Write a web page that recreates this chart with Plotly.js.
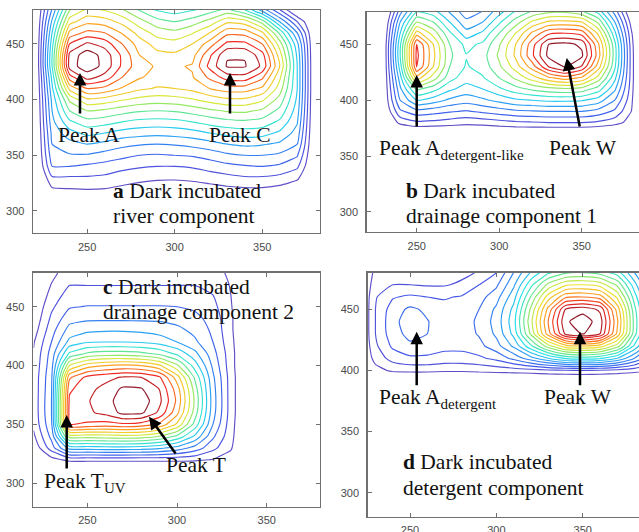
<!DOCTYPE html>
<html>
<head>
<meta charset="utf-8">
<script src="https://cdn.plot.ly/plotly-3.0.1.min.js"></script>
<style>html,body{margin:0;padding:0;background:#fff;overflow:hidden}#chart{width:639px;height:532px}</style>
</head>
<body>
<div id="chart"></div>
<script>
// Excitation (x) and emission (y) grid, nm
const excitation = [220,230,240,250,260,270,280,290,300,310,320,330,340,350,360,370,380,390];
const emission = [280,290,300,310,320,330,340,350,360,370,380,390,400,410,420,430,440,450,460,470,480,490];
const xTicks = [250,300,350];
const yTicks = [300,350,400,450];

// a Dark incubated river component (relative intensity, contour levels 1..16)
const zRiver = [
[-1,-1,-1,-1,-1,-1,-1,-1,-1,-1,-1,-1,-1,-1,-1,-1,-1,-1],
[-1,-1,-1,-1,-1,-1,-1,-1,-1,-1,-1,-1,-1,-1,-1,-1,-1,-1],
[-1,-1,-1,-1,-1,-1,-1,-1,-1,-1,-1,-1,-1,-1,-1,-1,-1,-1],
[-1,-1,-0.8,-0.6,-0.6,-0.6,-0.6,-0.8,-0.8,-0.8,-0.8,-0.6,-0.6,-0.6,-0.6,-0.8,-1,-1],
[-1,0.9,1.0,1.1,1.0,0.8,0.6,0.4,0.3,0.4,0.6,0.8,0.9,0.9,0.7,0.3,-1,-1],
[-1,1.9,1.9,1.9,1.8,1.5,1.3,1.2,1.2,1.3,1.5,1.7,1.9,1.9,1.7,1.2,-0.5,-1],
[-0.8,3.0,3.0,2.8,2.6,2.3,2.1,2.0,2.0,2.1,2.4,2.7,2.9,3.0,2.8,2.2,-0.5,-1],
[-0.8,3.6,3.9,3.9,3.6,3.3,3.0,2.9,3.0,3.1,3.4,3.8,4.0,4.0,3.8,3.1,-0.5,-1],
[-0.8,4.0,4.6,5.0,4.7,4.3,4.1,4.0,4.1,4.3,4.6,5.0,5.2,5.1,4.8,4.0,-0.5,-1],
[-0.8,4.3,5.6,6.3,6.0,5.6,5.4,5.3,5.4,5.6,6.0,6.3,6.5,6.4,5.8,4.6,-0.5,-1],
[-0.8,4.7,6.8,7.6,7.4,7.0,6.7,6.6,6.7,7.0,7.4,7.7,7.8,7.6,6.8,5.1,-0.5,-1],
[-0.8,5.0,8.0,9.0,8.8,8.4,8.1,8.0,8.1,8.4,8.8,9.1,9.2,8.8,7.7,5.5,-0.5,-1],
[-0.8,5.3,9.2,10.8,10.6,10.1,9.7,9.5,9.6,9.9,10.4,10.8,10.8,10.2,8.6,5.8,-0.5,-1],
[-0.8,5.8,11.3,13.0,12.7,11.9,11.2,10.9,11.0,11.3,12.0,12.5,12.5,11.8,9.5,6.0,-0.5,-1],
[-0.8,6.3,13.5,15.4,14.6,13.0,12.1,11.6,11.6,11.9,13.2,14.5,14.6,13.2,10.2,6.0,-0.5,-1],
[-0.8,7.0,15.5,16.6,15.7,13.8,12.3,11.9,11.85,12.1,14.3,16.1,16.1,14.8,11.0,6.0,-0.5,-1],
[-0.8,7.0,15.3,16.6,15.6,13.8,12.0,11.3,11.2,11.6,13.8,15.9,15.9,14.4,10.5,5.8,-0.5,-1],
[-0.8,6.6,14.0,15.2,14.6,13.0,11.5,10.6,10.4,11.0,12.5,14.3,14.3,13.0,9.5,5.3,-0.5,-1],
[-0.8,6.0,12.3,13.3,13.0,11.9,10.6,9.6,9.3,9.9,11.0,12.7,12.6,11.2,7.8,4.0,-0.5,-1],
[-0.8,5.2,10.6,11.7,11.5,10.7,9.4,8.4,8.0,8.5,9.4,10.8,10.5,8.6,5.0,2.0,-0.5,-1],
[-0.8,4.2,9.0,10.3,10.0,9.2,8.0,7.0,6.6,7.0,7.6,8.4,7.2,4.8,2.2,-0.3,-1,-1],
[-0.8,3.4,7.6,9.0,8.6,7.8,6.6,5.8,5.5,5.8,6.0,6.5,5.0,2.0,0,-1,-1,-1]
];

// b Dark incubated drainage component 1 (levels 1..16)
const zDrainage1 = [
[-1,-1,-1,-1,-1,-1,-1,-1,-1,-1,-1,-1,-1,-1,-1,-1,-1,-1],
[-1,-1,-1,-1,-1,-1,-1,-1,-1,-1,-1,-1,-1,-1,-1,-1,-1,-1],
[-1,-1,-1,-1,-1,-1,-1,-1,-1,-1,-1,-1,-1,-1,-1,-1,-1,-1],
[-1,-1,-1,-1,-1,-1,-1,-1,-1,-1,-1,-1,-1,-1,-1,-1,-1,-1],
[-1,-1,-1,-1,-1,-1,-1,-1,-1,-1,-1,-1,-1,-1,-1,-1,-1,-1],
[-1,-1,-1,-1,-1,-1,-1,-1,-1,-1,-1,-1,-1,-1,-1,-1,-1,-1],
[-1,-1,-1,-1,-1,-1,-1,-1,-1,-1,-1,-1,-1,-1,-1,-1,-1,-1],
[-1,-1,-1,-1,-1,-1,-1,-1,-1,-1,-1,-1,-1,-1,-1,-1,-1,-1],
[-1,-1,-1,-1,-1,-1,-1,-1,-1,-1,-1,-1,-1,-1,-1,-1,-1,-1],
[-6,-1.5,-0.8,-0.5,-0.5,-0.4,-0.3,-0.3,-0.3,-0.3,-0.3,-0.4,-0.4,-0.4,-0.5,-0.6,-1,-3],
[-6,-0.5,1.3,1.8,1.7,1.5,1.3,1.4,1.6,1.8,1.9,2.0,2.0,2.0,1.8,1.4,0.6,-3],
[-6,-0.2,2.8,3.6,3.4,3.1,2.9,3.2,3.5,3.8,3.9,4.0,4.0,4.0,3.6,2.8,1.0,-3],
[-6,0,4.0,6.0,5.5,4.8,4.4,4.8,5.3,5.8,6.0,6.2,6.2,6.1,5.5,4.0,1.3,-3],
[-6,0,4.8,8.2,7.4,6.2,5.6,6.0,6.8,7.6,8.2,8.6,8.8,8.6,7.5,5.2,1.5,-3],
[-6,0,5.6,11.5,9.5,7.4,6.4,6.9,8.0,9.2,10.5,11.8,12.5,11.8,9.6,6.3,1.6,-3],
[-6,0,6.5,14.1,11.0,8.0,6.9,7.4,8.8,10.5,12.5,15.0,16.1,14.9,11.5,7.2,1.6,-3],
[-6,0,7.0,14.3,11.3,8.2,7.05,7.6,9.2,11.2,13.8,16.3,16.6,16.2,12.5,7.5,1.6,-3],
[-6,0,6.8,14.1,11.0,8.0,6.7,7.2,8.9,11.0,13.6,16.0,16.3,15.8,12.2,7.3,1.5,-3],
[-6,-0.2,6.0,11.5,9.6,7.2,5.4,6.2,8.0,10.0,12.2,13.8,14.0,13.6,10.8,6.3,1.2,-3],
[-6,-0.5,5.0,9.0,8.0,6.0,4.3,5.0,6.8,8.5,10.2,11.2,11.3,11.0,8.8,5.0,0.6,-3],
[-6,-1,3.5,6.8,6.3,4.8,3.3,4.0,5.5,7.0,8.0,8.6,8.6,8.0,6.5,3.5,-0.3,-3],
[-6,-1.5,2.5,5.2,4.8,3.7,2.5,3.0,4.3,5.6,6.0,6.3,6.2,5.6,4.5,2.0,-1,-3]
];

// c Dark incubated drainage component 2 (levels 1..16)
const zDrainage2 = [
[-1,-1,-1,-1,-1,-1,-1,-1,-1,-1,-1,-1,-1,-1,-1,-1,-1,-1],
[-1,-1,-1,-1,-1,-1,-1,-1,-1,-1,-1,-1,-1,-1,-1,-1,-1,-1],
[-1,-1,-1,-1,-1,-1,-1,-1,-1,-1,-1,-1,-1,-1,-1,-1,-1,-1],
[-1,-1,-1,-1,-1,-1,-1,-1,-1,-1,-1,-1,-1,-1,-1,-1,-1,-1],
[-0.5,0.6,1.3,1.3,1.3,1.3,1.3,1.3,1.3,1.2,0.95,0.6,-0.8,-1,-1,-1,-1,-1],
[0.2,2.5,5.4,5.5,5.6,5.6,5.5,5.2,4.6,3.6,2.3,1.1,-0.5,-1,-1,-1,-1,-1],
[0.8,3.3,9.5,9.5,9.6,9.7,9.6,9.0,7.8,5.8,3.2,1.3,-0.5,-1,-1,-1,-1,-1],
[1.2,3.8,14.0,13.8,13.6,13.8,13.6,12.8,10.8,7.6,4.0,1.4,-0.5,-1,-1,-1,-1,-1],
[1.3,4.0,14.3,14.8,15.3,16.3,16.2,14.8,12.3,8.5,4.4,1.5,-0.5,-1,-1,-1,-1,-1],
[1.3,4.0,14.2,14.9,15.6,16.5,16.6,15.3,12.8,8.8,4.5,1.5,-0.5,-1,-1,-1,-1,-1],
[1.3,3.9,13.8,14.7,15.3,16.2,16.1,15.0,12.5,8.5,4.4,1.5,-0.5,-1,-1,-1,-1,-1],
[1.3,3.8,12.8,14.3,14.7,15.1,15.0,14.2,11.5,7.8,4.2,1.5,-0.5,-1,-1,-1,-1,-1],
[1.2,3.6,10.0,11.5,12.0,12.2,12.0,11.2,9.2,6.5,3.8,1.4,-0.5,-1,-1,-1,-1,-1],
[1.1,3.4,7.2,8.2,8.5,8.5,8.3,7.8,6.8,5.3,3.4,1.4,-0.5,-1,-1,-1,-1,-1],
[0.9,3.0,5.3,5.9,6.0,6.0,5.9,5.6,5.0,4.2,3.0,1.3,-0.5,-1,-1,-1,-1,-1],
[0.5,2.6,4.4,4.8,4.9,4.9,4.8,4.6,4.3,3.7,2.8,1.2,-0.5,-1,-1,-1,-1,-1],
[0.2,2.2,3.6,3.8,3.8,3.8,3.8,3.8,3.6,3.3,2.6,1.2,-0.6,-1,-1,-1,-1,-1],
[0,1.8,2.9,3.05,3.05,3.05,3.05,3.05,3.0,2.8,2.3,1.1,-0.6,-1,-1,-1,-1,-1],
[-0.3,1.4,2.4,2.4,2.4,2.4,2.4,2.4,2.4,2.4,2.0,1.0,-0.6,-1,-1,-1,-1,-1],
[-0.5,1.0,1.9,1.9,1.9,1.9,1.9,1.9,1.9,1.9,1.7,0.9,-0.7,-1,-1,-1,-1,-1],
[-1,0.6,1.6,1.7,1.7,1.7,1.7,1.7,1.7,1.7,1.5,0.7,-0.8,-1,-1,-1,-1,-1],
[-1.5,0.3,1.4,1.5,1.5,1.5,1.5,1.5,1.5,1.5,1.3,0.4,-1,-1,-1,-1,-1,-1]
];

// d Dark incubated detergent component (levels 1..20)
const zDetergent = [
[-1,-1,-1,-1,-1,-1,-1,-1,-1,-1,-1,-1,-1,-1,-1,-1,-1,-1],
[-1,-1,-1,-1,-1,-1,-1,-1,-1,-1,-1,-1,-1,-1,-1,-1,-1,-1],
[-1,-1,-1,-1,-1,-1,-1,-1,-1,-1,-1,-1,-1,-1,-1,-1,-1,-1],
[-1,-1,-1,-1,-1,-1,-1,-1,-1,-1,-1,-1,-1,-1,-1,-1,-1,-1],
[-1,-1,-1,-1,-1,-1,-1,-1,-1,-1,-1,-1,-1,-1,-1,-1,-1,-1],
[-1,-1,-1,-1,-1,-1,-1,-1,-1,-1,-1,-1,-1,-1,-1,-1,-1,-1],
[-1,-1,-1,-1,-1,-1,-1,-1,-1,-1,-1,-1,-1,-1,-1,-1,-1,-1],
[-1,-1,-1,-1,-1,-1,-1,-1,-1,-1,-1,-1,-1,-1,-1,-1,-1,-1],
[-1,-1,-1,-1,-1,-1,-1,-1,-1,-1,-1,-1,-1,-1,-1,-1,-1,-1],
[-1,-1,-1,-1,-1,-1,-1,-1,-1,-1,-1,-1,-1,-1,-1,-1,-1,-1],
[-1,-1,-1,-1,-1,-1,-1,-1,-1,-1,-1,-1,-1,-1,-1,-1,-1,-1],
[-1,-1,-1,-1,-1,-1,-1,-1,-1,-1,-1,-1,-1,-1,-1,-1,-1,-1],
[-0.8,0.6,1.2,1.3,1.3,1.2,1.2,1.3,1.4,1.5,1.6,1.8,1.9,2.0,1.9,1.7,1.4,1.0],
[-0.6,1.4,2.4,2.8,2.8,2.6,2.6,2.8,3.3,4.3,5.6,7.0,8.2,8.5,8.2,7.0,5.0,3.0],
[-0.6,1.8,3.2,3.8,3.6,3.3,3.3,3.7,4.6,6.2,8.8,11.6,13.6,14.0,13.5,11.5,7.8,4.5],
[-0.6,2.0,3.6,4.3,4.0,3.5,3.5,4.1,5.2,7.3,11.2,15.5,19.2,20.1,19.0,14.8,9.4,5.2],
[-0.6,2.0,3.7,4.5,4.05,3.5,3.5,4.2,5.4,7.6,11.7,16.0,19.8,20.6,19.5,15.2,9.6,5.3],
[-0.6,2.0,3.5,4.2,3.8,3.35,3.4,4.0,5.2,7.3,11.2,15.3,19.0,19.6,18.8,14.6,9.3,5.1],
[-0.6,1.9,2.9,3.2,3.0,2.9,3.1,3.6,4.6,6.6,10.1,13.5,15.8,16.0,15.5,12.8,8.5,4.7],
[-0.6,1.6,2.0,2.0,1.9,1.9,2.2,3.0,3.8,5.8,8.7,11.3,12.8,13.0,12.6,10.8,7.4,4.1],
[-0.6,1.3,1.5,1.5,1.4,1.5,1.7,2.1,3.0,5.0,7.1,8.8,9.8,10.0,9.6,8.5,6.0,3.4],
[-0.6,1.1,1.2,1.2,1.2,1.3,1.5,1.8,2.5,4.2,5.6,6.6,7.3,7.5,7.2,6.5,4.8,2.8]
];

const W = 639, H = 532;
const px = v => v / W;
const py = v => 1 - v / H;

const lineScale = [
  [0, 'rgb(95,80,200)'],
  [0.1, 'rgb(70,85,232)'],
  [0.25, 'rgb(45,150,245)'],
  [0.37, 'rgb(35,225,235)'],
  [0.5, 'rgb(115,232,120)'],
  [0.62, 'rgb(235,232,45)'],
  [0.75, 'rgb(255,150,30)'],
  [0.87, 'rgb(240,40,35)'],
  [1, 'rgb(145,25,40)']
];

function contourTrace(z, nLevels, xa, ya) {
  return {
    type: 'contour', x: excitation, y: emission, z: z,
    xaxis: xa, yaxis: ya,
    autocontour: false,
    contours: {coloring: 'lines', start: 0.999, end: nLevels - 0.001, size: 1, showlabels: false},
    colorscale: lineScale, showscale: false,
    line: {width: 1.15, smoothing: 0.5},
    hoverinfo: 'skip'
  };
}

const data = [
  contourTrace(zRiver, 16, 'x', 'y'),
  contourTrace(zDrainage1, 16, 'x2', 'y2'),
  contourTrace(zDrainage2, 16, 'x3', 'y3'),
  contourTrace(zDetergent, 20, 'x4', 'y4')
];

const tickFont = {family: 'Liberation Sans, Arial, sans-serif', size: 11, color: '#4a4a4a'};
function xAxis(domain, range, anchor) {
  return {domain: domain, range: range, anchor: anchor, tickvals: xTicks, ticks: 'inside', ticklen: 4,
    tickcolor: '#707070', showline: true, linecolor: '#707070', linewidth: 1.4, mirror: 'ticks',
    showgrid: false, zeroline: false, tickfont: tickFont, ticklabelstandoff: 3, fixedrange: true};
}
function yAxis(domain, range, anchor, mirror) {
  return {domain: domain, range: range, anchor: anchor, tickvals: yTicks, ticks: 'inside', ticklen: 4,
    tickcolor: '#707070', showline: true, linecolor: '#707070', linewidth: 1.4, mirror: mirror,
    showgrid: false, zeroline: false, tickfont: tickFont, ticklabelstandoff: 5, fixedrange: true};
}

const serif = {family: 'Liberation Serif, Times New Roman, serif', size: 21.5, color: '#111'};
function label(text, left, baseline) {
  return {text: text, xref: 'paper', yref: 'paper', x: px(left - 1), y: py(baseline - 20.2),
    xanchor: 'left', yanchor: 'top', showarrow: false, font: serif};
}
function arrow(tipX, tipY, tailX, tailY) {
  return {text: '', xref: 'paper', yref: 'paper', x: px(tipX), y: py(tipY),
    ax: tailX - tipX, ay: tailY - tipY, showarrow: true, arrowhead: 2, arrowsize: 1.0,
    arrowwidth: 2.5, arrowcolor: '#000', standoff: 0};
}

const annotations = [
  // a
  label('Peak A', 56.7, 141.7),
  label('Peak C', 208.3, 141.7),
  label('<b>a</b> Dark incubated', 111.7, 196.7),
  label('river component', 111.7, 221.7),
  arrow(80, 73, 80, 115),
  arrow(230, 73, 230, 115),
  // b
  label('Peak A<sub>detergent-like</sub>', 378.3, 154),
  label('Peak W', 548.3, 154),
  label('<b>b</b> Dark incubated', 405, 196.7),
  label('drainage component 1', 405, 221.7),
  arrow(416.7, 75, 416.7, 128),
  arrow(566.7, 58, 580, 128),
  // c
  label('<b>c</b> Dark incubated', 101.7, 293.3),
  label('drainage component 2', 101.7, 318.3),
  label('Peak T<sub>UV</sub>', 43.3, 486.7),
  label('Peak T', 165, 470.7),
  arrow(66.7, 415, 66.7, 470),
  arrow(149, 416.7, 176.7, 455),
  // d
  label('Peak A<sub>detergent</sub>', 378.3, 403),
  label('Peak W', 543.3, 403),
  label('<b>d</b> Dark incubated', 401.7, 468),
  label('detergent component', 401.7, 494),
  arrow(416.7, 331.7, 416.7, 386.7),
  arrow(580, 331.7, 580, 386.7)
];

const layout = {
  width: W, height: H,
  margin: {l: 0, r: 0, t: 0, b: 0},
  paper_bgcolor: '#fff', plot_bgcolor: '#fff',
  showlegend: false,
  font: {family: 'Liberation Sans, Arial, sans-serif'},
  xaxis: xAxis([px(33), px(320)], [219.1, 383], 'y'),
  yaxis: yAxis([py(233), py(10)], [280.2, 480.5], 'x', 'ticks'),
  xaxis2: xAxis([px(366.7), 1], [219.7, 384.7], 'y2'),
  yaxis2: yAxis([py(232), py(12)], [282, 479], 'x2', false),
  xaxis3: xAxis([px(33), px(320)], [219.7, 379.7], 'y3'),
  yaxis3: yAxis([py(506.7), py(272.7)], [280.1, 478.9], 'x3', 'ticks'),
  xaxis4: xAxis([px(367.7), 1], [225.5, 382.6], 'y4'),
  yaxis4: yAxis([py(516.7), py(272.7)], [280.4, 479.9], 'x4', false),
  annotations: annotations
};

Plotly.newPlot('chart', data, layout, {staticPlot: true, displayModeBar: false});
</script>
</body>
</html>
